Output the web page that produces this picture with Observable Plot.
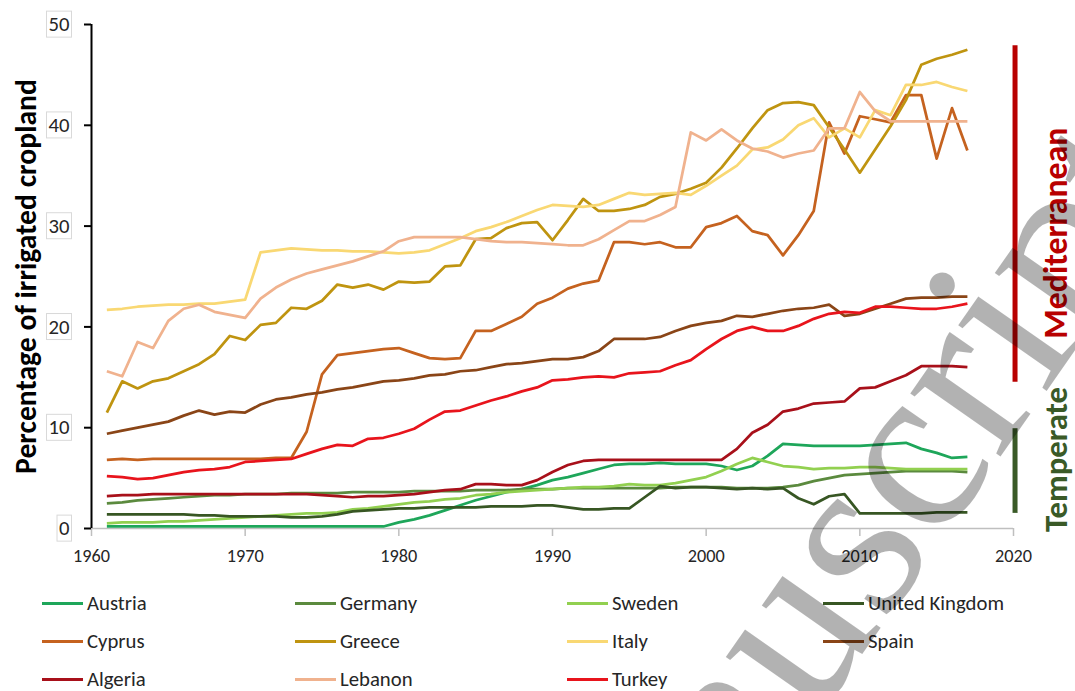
<!DOCTYPE html>
<html>
<head>
<meta charset="utf-8">
<script src="https://cdn.jsdelivr.net/npm/d3@7"></script>
<script src="https://cdn.jsdelivr.net/npm/@observablehq/plot@0.6"></script>
<style>
  html,body{margin:0;padding:0;background:#fff;}
  #wrap{position:relative;width:1075px;height:691px;overflow:hidden;font-family:Carlito,Lato,sans-serif;color:#262626;}
  #chart{position:absolute;left:0;top:0;}
  .lg{position:absolute;display:flex;align-items:center;white-space:nowrap;line-height:1;}
  .lg .sw{display:inline-block;width:41px;height:3px;margin-right:4px;flex:none;}
  #wm{position:absolute;left:0;top:0;pointer-events:none;}
</style>
</head>
<body>
<div id="wrap"><div id="chart"></div><div id="legend"></div><svg id="wm" width="1075" height="691"></svg></div>
<script>
// ---------------- data ----------------
const years = d3.range(1961, 2018);
const countries = ["Austria","Germany","Sweden","United Kingdom","Cyprus","Greece","Italy","Spain","Algeria","Lebanon","Turkey"];
const colors = ["#1ea65a","#5b8a3e","#92d050","#375623","#c5621f","#bf9410","#f9d873","#8a4517","#a8101a","#f0b28e","#e8141c"];

const austria = [0.2,0.2,0.2,0.2,0.2,0.2,0.2,0.2,0.2,0.2, 0.2,0.2,0.2,0.2,0.2,0.2,0.2,0.2,0.2,0.6,
  0.9,1.3,1.8,2.3,2.8,3.2,3.6,3.9,4.3,4.8, 5.1,5.5,5.9,6.3,6.4,6.4,6.5,6.4,6.4,6.4,
  6.2,5.8,6.2,7.2,8.4,8.3,8.2,8.2,8.2,8.2, 8.3,8.4,8.5,7.9,7.5,7.0,7.1];
const germany = [2.5,2.6,2.8,2.9,3.0,3.1,3.2,3.3,3.3,3.4, 3.4,3.4,3.5,3.5,3.5,3.5,3.6,3.6,3.6,3.6,
  3.7,3.7,3.7,3.7,3.8,3.8,3.8,3.9,3.9,3.9, 4.0,4.0,4.0,4.0,4.0,4.0,4.0,4.1,4.1,4.1,
  4.1,4.0,4.0,4.0,4.1,4.3,4.7,5.0,5.3,5.4, 5.5,5.6,5.7,5.7,5.7,5.7,5.6];
const sweden = [0.5,0.6,0.6,0.6,0.7,0.7,0.8,0.9,1.0,1.1, 1.2,1.3,1.4,1.5,1.5,1.6,1.9,2.0,2.2,2.4,
  2.6,2.7,2.9,3.0,3.3,3.4,3.6,3.7,3.8,3.9, 4.0,4.1,4.1,4.2,4.4,4.3,4.3,4.5,4.8,5.1,
  5.7,6.4,7.0,6.6,6.2,6.1,5.9,6.0,6.0,6.1, 6.1,6.0,5.9,5.9,5.9,5.9,5.9];
const unitedKingdom = [1.4,1.4,1.4,1.4,1.4,1.4,1.3,1.3,1.2,1.2, 1.2,1.2,1.1,1.1,1.2,1.4,1.7,1.8,1.9,2.0,
  2.0,2.1,2.1,2.1,2.1,2.2,2.2,2.2,2.3,2.3, 2.1,1.9,1.9,2.0,2.0,3.1,4.2,4.0,4.1,4.1,
  4.0,3.9,4.0,3.9,4.0,3.0,2.4,3.2,3.4,1.5, 1.5,1.5,1.5,1.5,1.6,1.6,1.6];
const cyprus = [6.8,6.9,6.8,6.9,6.9,6.9,6.9,6.9,6.9,6.9, 6.9,7.0,7.0,9.6,15.3,17.2,17.4,17.6,17.8,17.9,
  17.4,16.9,16.8,16.9,19.6,19.6,20.3,21.0,22.3,22.9, 23.8,24.3,24.6,28.4,28.4,28.2,28.4,27.9,27.9,29.9,
  30.3,31.0,29.5,29.1,27.1,29.1,31.5,40.3,37.2,40.9, 40.6,40.3,43.0,43.0,36.7,41.7,37.5];
const greece = [11.5,14.6,13.9,14.6,14.9,15.6,16.3,17.3,19.1,18.7, 20.2,20.4,21.9,21.8,22.6,24.2,23.9,24.2,23.7,24.5,
  24.4,24.5,26.0,26.1,28.7,28.8,29.8,30.3,30.4,28.6, 30.6,32.7,31.5,31.5,31.7,32.1,32.9,33.2,33.7,34.3,
  35.8,37.7,39.7,41.5,42.2,42.3,42.0,39.8,37.6,35.3, 37.6,39.9,42.5,46.0,46.6,47.0,47.5];
const italy = [21.7,21.8,22.0,22.1,22.2,22.2,22.3,22.3,22.5,22.7, 27.4,27.6,27.8,27.7,27.6,27.6,27.5,27.5,27.4,27.3,
  27.4,27.6,28.2,28.8,29.5,29.9,30.4,31.0,31.6,32.1, 32.0,31.9,32.1,32.7,33.3,33.1,33.2,33.3,33.1,34.0,
  35.0,36.0,37.6,37.8,38.6,40.0,40.7,38.8,39.7,38.8, 41.5,41.0,44.0,44.0,44.3,43.8,43.4];
const spain = [9.4,9.7,10.0,10.3,10.6,11.2,11.7,11.3,11.6,11.5, 12.3,12.8,13.0,13.3,13.5,13.8,14.0,14.3,14.6,14.7,
  14.9,15.2,15.3,15.6,15.7,16.0,16.3,16.4,16.6,16.8, 16.8,17.0,17.6,18.8,18.8,18.8,19.0,19.6,20.1,20.4,
  20.6,21.1,21.0,21.3,21.6,21.8,21.9,22.2,21.1,21.3, 21.8,22.3,22.8,22.9,22.9,23.0,23.0];
const algeria = [3.2,3.3,3.3,3.4,3.4,3.4,3.4,3.4,3.4,3.4, 3.4,3.4,3.4,3.4,3.3,3.2,3.1,3.2,3.2,3.3,
  3.4,3.6,3.8,3.9,4.4,4.4,4.3,4.3,4.8,5.6, 6.3,6.7,6.8,6.8,6.8,6.8,6.8,6.8,6.8,6.8,
  6.8,7.9,9.5,10.3,11.6,11.9,12.4,12.5,12.6,13.9, 14.0,14.6,15.2,16.1,16.1,16.1,16.0];
const lebanon = [15.6,15.1,18.5,17.9,20.6,21.8,22.2,21.5,21.2,20.9, 22.8,23.9,24.7,25.3,25.7,26.1,26.5,27.0,27.5,28.5,
  28.9,28.9,28.9,28.9,28.7,28.5,28.4,28.4,28.3,28.2, 28.1,28.1,28.7,29.6,30.5,30.5,31.1,31.9,39.3,38.5,
  39.6,38.5,37.7,37.4,36.8,37.2,37.5,39.7,39.7,43.3, 41.4,40.4,40.4,40.4,40.4,40.4,40.4];
const turkey = [5.2,5.1,4.9,5.0,5.3,5.6,5.8,5.9,6.1,6.6, 6.7,6.8,6.9,7.4,7.9,8.3,8.2,8.9,9.0,9.4,
  9.9,10.8,11.6,11.7,12.2,12.7,13.1,13.6,14.0,14.7, 14.8,15.0,15.1,15.0,15.4,15.5,15.6,16.2,16.7,17.8,
  18.8,19.6,20.0,19.6,19.6,20.1,20.8,21.3,21.5,21.4, 22.0,22.0,21.9,21.8,21.8,22.0,22.3];

const series = [austria,germany,sweden,unitedKingdom,cyprus,greece,italy,spain,algeria,lebanon,turkey];
const xTicks = [1960,1970,1980,1990,2000,2010,2020];
const yTicks = [0,10,20,30,40,50];
const yTitle = "Percentage of irrigated cropland";
// climate groups: extent of the bracket (in % units) and label centre
const groups = [
  {name:"Mediterranean", from:14.5, to:47.9, label:29.3},
  {name:"Temperate", from:1.5, to:9.9, label:6.85}
];
const groupColor = {"Mediterranean":"#b80000", "Temperate":"#3a5a27"};
const watermark = "Manuscript";

// ---------------- build ----------------
const rows = countries.flatMap((c,i) => series[i].map((v,j) => ({country:c, year:years[j], value:v})));
const FONT = "Carlito, Lato, sans-serif";

const chart = Plot.plot({
  width:1075, height:580,
  marginLeft:91, marginRight:62, marginTop:24, marginBottom:52,
  style:{fontFamily:FONT, fontSize:"17px", color:"#262626", background:"transparent", overflow:"visible"},
  x:{domain:[1960,2020]},
  y:{domain:[0,50]},
  color:{domain:countries, range:colors},
  marks:[
    Plot.ruleY([0], {stroke:"#bfbfbf", strokeWidth:1.5}),
    Plot.axisX({ticks:xTicks, tickFormat:d=>String(d), tickSize:8, tickPadding:13, stroke:"#bfbfbf", strokeWidth:1.5, fill:"#262626", fontSize:17, label:null}),
    Plot.axisY({ticks:yTicks, tickSize:7, tickPadding:15, stroke:"#000", strokeWidth:2, fill:"#262626", fontSize:18.5, label:null}),
    Plot.ruleX([1960], {stroke:"#000", strokeWidth:2}),
    Plot.line(rows, {x:"year", y:"value", z:"country", stroke:"country", strokeWidth:2.75, strokeLinejoin:"round", strokeLinecap:"butt"}),
    ...groups.map(g => Plot.ruleX([g], {x:d=>2020.1, y1:"from", y2:"to", stroke:groupColor[g.name], strokeWidth:5})),
    ...groups.map(g => Plot.text([g], {x:d=>2020, y:"label", text:"name", rotate:-90, dx:43, fontWeight:"bold", fontSize:30, fill:groupColor[g.name], className:"grp"})),
    Plot.text([yTitle], {frameAnchor:"left", textAnchor:"middle", rotate:-90, dx:-65, fontWeight:"bold", fontSize:27, fill:"#000", className:"ytitle"})
  ]
});
document.getElementById("chart").appendChild(chart);

// fit a text element to a target length (font substitution for Calibri)
function fitText(el, target){
  const L = el.getComputedTextLength();
  const fs = parseFloat(getComputedStyle(el).fontSize);
  if (L > 0) el.style.fontSize = (fs * target / L) + "px";
}
const svg = d3.select(chart);
svg.selectAll('g[aria-label="x-axis tick label"] text').each(function(){ fitText(this, 37); });
svg.selectAll('g[aria-label="y-axis tick label"] text').each(function(){ fitText(this, this.textContent.length === 1 ? 10.5 : 21); });
svg.selectAll(".ytitle text").each(function(){ fitText(this, 395); });
const grpTargets = {"Mediterranean":211, "Temperate":145};
svg.selectAll(".grp text").each(function(){ fitText(this, grpTargets[this.textContent]); });

// light boxes round the y tick labels
svg.selectAll('g[aria-label="y-axis tick label"] text').each(function(){
  const b = this.getBBox();
  const r = document.createElementNS("http://www.w3.org/2000/svg","rect");
  r.setAttribute("x", b.x - 2); r.setAttribute("y", b.y);
  r.setAttribute("width", b.width + 4); r.setAttribute("height", b.height);
  r.setAttribute("fill","none"); r.setAttribute("stroke","#d9d9d9"); r.setAttribute("stroke-width","1");
  const t = this.getAttribute("transform"); if (t) r.setAttribute("transform", t);
  this.parentNode.insertBefore(r, this);
});

// legend (HTML, below the svg)
const legendCols = [42, 295, 567, 823];
const legendRows = [603, 641, 679];
const leg = d3.select("#legend");
countries.forEach((c,i) => {
  const item = leg.append("div").attr("class","lg")
    .style("left", legendCols[i%4]+"px").style("top", (legendRows[Math.floor(i/4)]-12)+"px").style("height","24px");
  item.append("span").attr("class","sw").style("background", colors[i]);
  item.append("span").attr("class","lbl").style("font-size","18px").text(c);
});
// scale legend font so "United Kingdom" matches its width
const uk = leg.selectAll(".lbl").filter(function(){ return this.textContent === "United Kingdom"; }).node();
const w = uk.getBoundingClientRect().width;
const lfs = 18 * 136 / w;
leg.selectAll(".lbl").style("font-size", lfs + "px");

// watermark
d3.select("#wm").append("text")
  .attr("transform","translate(562,1083) rotate(-55)")
  .attr("font-family","'Liberation Serif','Times New Roman',serif")
  .attr("font-size",240)
  .attr("fill","#000").attr("fill-opacity",0.3)
  .text(watermark);
</script>
</body>
</html>
